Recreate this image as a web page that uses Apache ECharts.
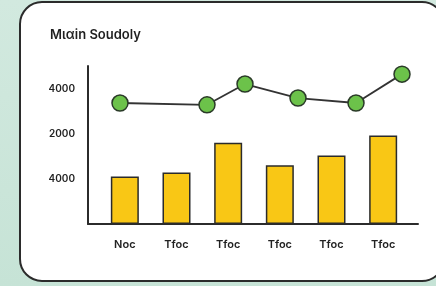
<!DOCTYPE html>
<html>
<head>
  <meta charset="utf-8">
  <script src="https://cdn.jsdelivr.net/npm/echarts@6/dist/echarts.min.js"></script>
  <style>
    html, body { margin: 0; height: 100%; }
    body { background: linear-gradient(180deg, #d2e9df 0%, #c6e3d6 100%); }
    #chart { width: 436px; height: 286px; }
  </style>
</head>
<body>
  <div id="chart"></div>
  <script>
    // data
    var title = 'Mιαin Soudoly';
    var categories = ['Noc', 'Tfoc', 'Tfoc', 'Tfoc', 'Tfoc', 'Tfoc'];
    var barValues = [1050, 1140, 1800, 1300, 1520, 1960];
    // line points sit off the bar centres, so they go on a value x axis
    var lineX = [32, 119, 157, 210, 268, 314];
    var lineY = [2680, 2640, 3100, 2790, 2680, 3320];
    var yTickLabels = ['', '4000', '2000', '4000'];

    var font = 'Inter, "Noto Sans", sans-serif';
    var chart = echarts.init(document.getElementById('chart'));

    var option = {
      animation: false,
      graphic: [{
        type: 'rect',
        z: -10,
        shape: { x: 20, y: 2, width: 424, height: 279, r: 22 },
        style: { fill: '#ffffff', stroke: '#2b2b2b', lineWidth: 2 }
      }],
      title: {
        text: title,
        left: 45, top: 24,
        textStyle: { fontFamily: font, fontSize: 13, fontWeight: 600, color: '#1f1f1f' }
      },
      grid: [
        { left: 99, right: 27, top: 66, bottom: 62 },
        { left: 88, right: 18, top: 66, bottom: 62 }
      ],
      xAxis: [{
        type: 'category',
        gridIndex: 0,
        data: categories,
        axisLine: { show: false },
        axisTick: { show: false },
        axisLabel: { margin: 15, fontFamily: font, fontSize: 11, fontWeight: 600, color: '#222' }
      }, {
        type: 'value',
        gridIndex: 1,
        min: 0, max: 330,
        axisLine: { show: true, lineStyle: { color: '#2b2b2b', width: 2 } },
        axisTick: { show: false },
        axisLabel: { show: false },
        splitLine: { show: false }
      }],
      yAxis: [{
        type: 'value',
        gridIndex: 0,
        min: 0, max: 3500, interval: 1000,
        axisLine: { show: false },
        axisTick: { show: false },
        splitLine: { show: false },
        axisLabel: {
          margin: 24,
          fontFamily: font, fontSize: 10, fontWeight: 600, color: '#222',
          formatter: function (v) { return yTickLabels[v / 1000] || ''; }
        }
      }, {
        type: 'value',
        gridIndex: 1,
        min: 0, max: 3500, interval: 1000,
        axisLine: { show: true, lineStyle: { color: '#2b2b2b', width: 2 } },
        axisTick: { show: false },
        axisLabel: { show: false },
        splitLine: { show: false }
      }],
      series: [{
        type: 'bar',
        xAxisIndex: 0, yAxisIndex: 0,
        data: barValues,
        barWidth: 28,
        itemStyle: { color: '#f9c715', borderColor: '#2b2b2b', borderWidth: 1.5 }
      }, {
        type: 'line',
        xAxisIndex: 1, yAxisIndex: 1,
        data: lineX.map(function (x, i) { return [x, lineY[i]]; }),
        symbol: 'circle',
        symbolSize: 16,
        z: 5,
        lineStyle: { color: '#333', width: 1.8 },
        itemStyle: { color: '#6cc24a', borderColor: '#2a3a28', borderWidth: 1.5 }
      }]
    };

    chart.setOption(option);
  </script>
</body>
</html>
